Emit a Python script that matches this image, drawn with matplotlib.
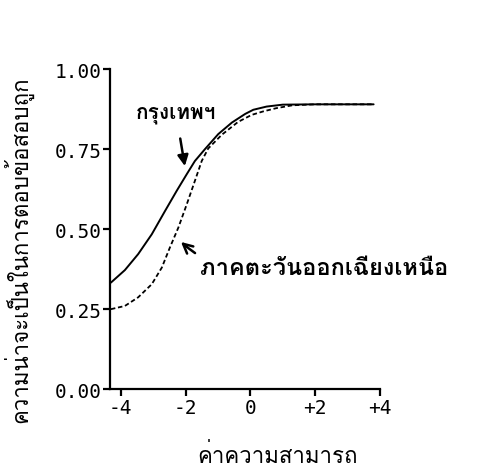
import matplotlib
matplotlib.use("Agg")
import matplotlib.pyplot as plt
from matplotlib import font_manager
from matplotlib.ft2font import FT2Font

# item characteristic curves, read point by point
theta_bkk = [-4.3, -3.87, -3.46, -3.04, -2.63, -2.27, -1.96, -1.71, -1.4,
             -0.99, -0.57, -0.16, 0.09, 0.5, 1.0, 2.0, 3.0, 3.8]
p_bkk = [0.333, 0.372, 0.422, 0.484, 0.557, 0.62, 0.672, 0.713, 0.75,
         0.797, 0.833, 0.86, 0.873, 0.883, 0.889, 0.89, 0.89, 0.89]

theta_ne = [-4.3, -3.87, -3.46, -3.04, -2.73, -2.48, -2.22, -1.96, -1.71, -1.5,
            -1.3, -0.88, -0.38, 0.04, 0.4, 0.8, 1.3, 2.0, 3.0, 3.8]
p_ne = [0.25, 0.26, 0.287, 0.328, 0.38, 0.443, 0.505, 0.578, 0.651, 0.713,
        0.752, 0.795, 0.835, 0.857, 0.868, 0.878, 0.887, 0.89, 0.89, 0.89]

x_ticks = [-4, -2, 0, 2, 4]
x_ticklabels = ["-4", "-2", "0", "+2", "+4"]
y_ticks = [0.0, 0.25, 0.5, 0.75, 1.0]
y_ticklabels = ["0.00", "0.25", "0.50", "0.75", "1.00"]

label_bkk = "กรุงเทพฯ"
label_ne = "ภาคตะวันออกเฉียงเหนือ"
x_title = "ค่าความสามารถ"
y_title = "ความน่าจะเป็นในการตอบข้อสอบถูก"


def thai_font():
    # first installed family that has Thai glyphs
    for f in font_manager.fontManager.ttflist:
        try:
            if ord("ก") in FT2Font(f.fname).get_charmap():
                return f.name
        except Exception:
            pass
    return "DejaVu Sans"


thai = [thai_font(), "DejaVu Sans"]
mono = "DejaVu Sans Mono"

fig = plt.figure(figsize=(4.93, 4.77), dpi=100)
ax = fig.add_axes([0.223, 0.182, 0.548, 0.671])

ax.plot(theta_bkk, p_bkk, color="black", lw=1.4, solid_capstyle="round")
ax.plot(theta_ne, p_ne, color="black", lw=1.3, linestyle=(0, (2.5, 1.5)))

ax.set_xlim(-4.33, 4.0)
ax.set_ylim(0, 1.0)
ax.spines["top"].set_visible(False)
ax.spines["right"].set_visible(False)
ax.spines["left"].set_linewidth(1.6)
ax.spines["bottom"].set_linewidth(1.6)

ax.set_xticks(x_ticks)
ax.set_xticklabels(x_ticklabels, fontfamily=mono, fontsize=14)
ax.set_yticks(y_ticks)
ax.set_yticklabels(y_ticklabels, fontfamily=mono, fontsize=14)
ax.tick_params(axis="both", direction="out", length=5, width=1.6, pad=1)

# axis titles
fig.text(0.562, 0.044, x_title, family=thai, fontsize=16,
         ha="center", va="center")
fig.text(0.036, 0.476, y_title, family=thai, fontsize=16, rotation=90,
         ha="center", va="center")

ax.annotate(label_bkk, xy=(-2.02, 0.697), xytext=(-2.29, 0.86),
            family=thai, fontsize=15, fontweight="bold", ha="center", va="center",
            arrowprops=dict(arrowstyle="-|>", color="black", lw=1.8,
                            shrinkA=9, shrinkB=0, mutation_scale=16))
ax.annotate(label_ne, xy=(-2.14, 0.46), xytext=(-1.55, 0.38),
            family=thai, fontsize=17, fontweight="bold", ha="left", va="center",
            annotation_clip=False,
            arrowprops=dict(arrowstyle="->", color="black", lw=1.8,
                            shrinkA=2, shrinkB=0, connectionstyle="arc3,rad=-0.3"))

fig.savefig("out.png", dpi=100)
